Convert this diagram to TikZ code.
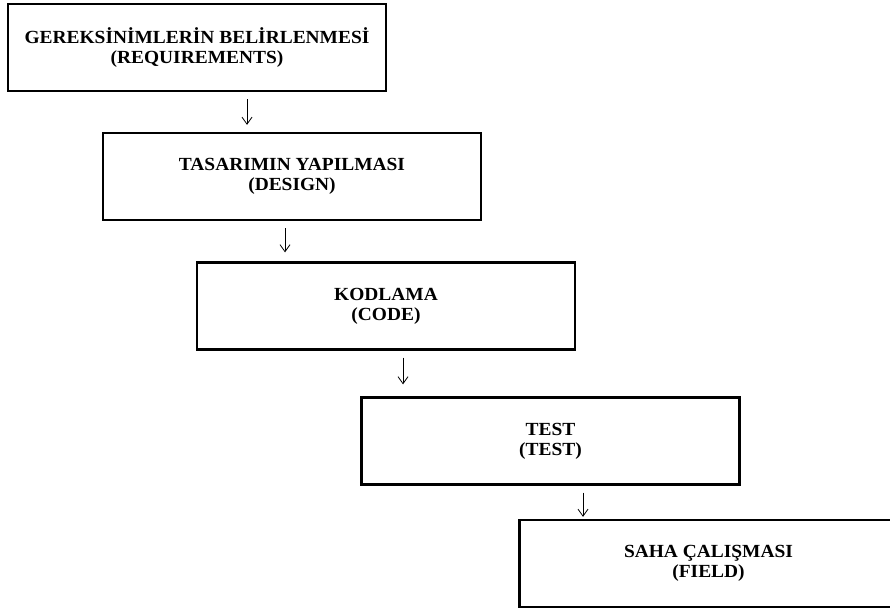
\documentclass[tikz,border=0pt]{standalone}
\usepackage{fontspec}
\setmainfont[FakeStretch=1.05]{Liberation Serif}
\usetikzlibrary{arrows.meta}
\begin{document}
\begin{tikzpicture}[x=1pt,y=-1pt,
  stage/.style={draw=black, line width=2.3pt, minimum width=378pt, minimum height=87pt,
    inner sep=0pt, align=center, font=\fontsize{18.5}{20}\selectfont\bfseries},
  flow/.style={-{Straight Barb[length=7pt,width=10pt]}, line width=0.8pt}]
  \clip (0,0) rectangle (890,610);
  \fill[white] (0,0) rectangle (890,610);

  % waterfall stages
  \node[stage] (b1) at (197,47.5)  {GEREKSİNİMLERİN BELİRLENMESİ\\(REQUIREMENTS)};
  \node[stage] (b2) at (292,176.5) {TASARIMIN YAPILMASI\\(DESIGN)};
  \node[stage] (b3) at (386,306)   {KODLAMA\\(CODE)};
  \node[stage] (b4) at (550.5,441) {TEST\\(TEST)};
  \node[stage] (b5) at (708.5,563.5) {SAHA ÇALIŞMASI\\(FIELD)};

  % arrows between consecutive stages
  \draw[flow, shorten <=7pt, shorten >=7pt]
    ([xshift=50pt]b1.south) -- ([xshift=50pt]b1.south |- b2.north);
  \draw[flow, shorten <=7pt, shorten >=9pt]
    ([xshift=-7pt]b2.south) -- ([xshift=-7pt]b2.south |- b3.north);
  \draw[flow, shorten <=7pt, shorten >=12pt]
    ([xshift=17pt]b3.south) -- ([xshift=17pt]b3.south |- b4.north);
  \draw[flow, shorten <=7pt, shorten >=2pt]
    ([xshift=32.5pt]b4.south) -- ([xshift=32.5pt]b4.south |- b5.north);
\end{tikzpicture}
\end{document}
